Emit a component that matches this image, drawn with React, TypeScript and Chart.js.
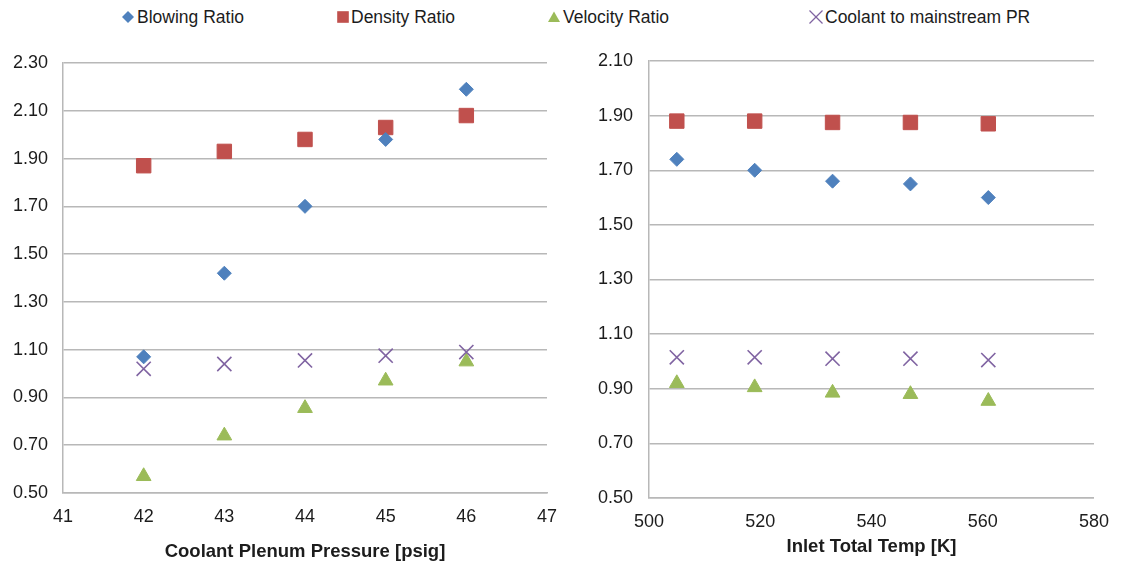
import React, { useEffect, useRef } from "react";
import { Chart, registerables } from "chart.js";

Chart.register(...registerables);

// ---- Data ----
const seriesNames = ["Blowing Ratio", "Density Ratio", "Velocity Ratio", "Coolant to mainstream PR"];

const pressure = [42, 43, 44, 45, 46];
const blowingP = [1.07, 1.42, 1.7, 1.98, 2.19];
const densityP = [1.87, 1.93, 1.98, 2.03, 2.08];
const velocityP = [0.57, 0.74, 0.855, 0.97, 1.05];
const prP = [1.02, 1.04, 1.055, 1.075, 1.09];

const temp = [505, 519, 533, 547, 561];
const blowingT = [1.74, 1.7, 1.66, 1.65, 1.6];
const densityT = [1.88, 1.88, 1.875, 1.875, 1.87];
const velocityT = [0.92, 0.905, 0.885, 0.88, 0.855];
const prT = [1.015, 1.015, 1.01, 1.01, 1.005];

const leftXTitle = "Coolant Plenum Pressure [psig]";
const rightXTitle = "Inlet Total Temp [K]";

// ---- Styles ----
const BLUE = "#4F81BD";
const RED = "#C0504D";
const GREEN = "#9BBB59";
const PURPLE = "#8064A2";
const GRID = "#b8b8b8";
const TEXT = "#1c1c1c";
const FONT = "'Liberation Sans', Arial, sans-serif";

function buildDatasets(xs: number[], b: number[], d: number[], v: number[], p: number[]) {
  const pts = (ys: number[]) => xs.map((x, i) => ({ x, y: ys[i] }));
  return [
    {
      label: seriesNames[0],
      data: pts(b),
      pointStyle: "rectRot",
      pointRadius: 7,
      backgroundColor: BLUE,
      borderColor: BLUE,
      borderWidth: 1,
      showLine: false,
      order: 1,
    },
    {
      label: seriesNames[1],
      data: pts(d),
      pointStyle: "rect",
      pointRadius: 10.2,
      backgroundColor: RED,
      borderColor: RED,
      borderWidth: 1,
      showLine: false,
      order: 2,
    },
    {
      label: seriesNames[2],
      data: pts(v),
      pointStyle: "triangle",
      pointRadius: 8.5,
      backgroundColor: GREEN,
      borderColor: GREEN,
      borderWidth: 1,
      showLine: false,
      order: 3,
    },
    {
      label: seriesNames[3],
      data: pts(p),
      pointStyle: "crossRot",
      pointRadius: 10,
      backgroundColor: PURPLE,
      borderColor: PURPLE,
      borderWidth: 1.6,
      showLine: false,
      order: 0,
    },
  ];
}

type PanelProps = {
  left: number;
  width: number;
  height: number;
  datasets: any[];
  xMin: number;
  xMax: number;
  xStep: number;
  yMin: number;
  yMax: number;
  yStep: number;
  title: string;
  yAxisWidth: number;
  yTickPad: number;
  padTop: number;
  padRight: number;
  xAxisHeight: number;
  xTickPad: number;
  titlePadBottom: number;
};

function ScatterPanel(props: PanelProps) {
  const ref = useRef<HTMLCanvasElement>(null);
  useEffect(() => {
    const canvas = ref.current;
    if (!canvas) return;
    const chart = new Chart(canvas, {
      type: "scatter",
      data: { datasets: props.datasets as any },
      options: {
        responsive: false,
        animation: false,
        devicePixelRatio: 1,
        layout: { padding: { top: props.padTop, right: props.padRight, left: 0, bottom: 0 } },
        plugins: { legend: { display: false }, tooltip: { enabled: false }, title: { display: false } },
        events: [],
        scales: {
          x: {
            type: "linear",
            min: props.xMin,
            max: props.xMax,
            ticks: {
              stepSize: props.xStep,
              padding: props.xTickPad,
              color: TEXT,
              font: { family: FONT, size: 18 },
              maxRotation: 0,
              callback: (v: any) => String(Math.round(Number(v))),
            },
            grid: { display: false, drawTicks: false },
            border: { display: true, color: GRID, width: 1.5 },
            title: {
              display: true,
              text: props.title,
              color: TEXT,
              font: { family: FONT, size: 18.5, weight: "bold" },
              padding: { top: 0, bottom: props.titlePadBottom },
            },
            afterFit: (s: any) => {
              s.height = props.xAxisHeight;
            },
          },
          y: {
            type: "linear",
            min: props.yMin,
            max: props.yMax,
            ticks: {
              stepSize: props.yStep,
              padding: props.yTickPad,
              color: TEXT,
              font: { family: FONT, size: 18 },
              callback: (v: any) => Number(v).toFixed(2),
            },
            grid: { display: true, drawTicks: false, color: GRID, lineWidth: 1.5 },
            border: { display: true, color: GRID, width: 1.5 },
            afterFit: (s: any) => {
              s.width = props.yAxisWidth;
            },
          },
        },
      } as any,
    });
    return () => chart.destroy();
  }, []);
  return (
    <canvas
      ref={ref}
      width={props.width}
      height={props.height}
      style={{ position: "absolute", left: props.left, top: 0, width: props.width, height: props.height }}
    />
  );
}

function LegendMarker({ kind }: { kind: number }) {
  if (kind === 0) return <polygon points="8,2 14,8 8,14 2,8" fill={BLUE} />;
  if (kind === 1) return <rect x={2.2} y={2.2} width={11.6} height={11.6} fill={RED} />;
  if (kind === 2) return <polygon points="8,2.5 14,13 2,13" fill={GREEN} />;
  return (
    <g stroke={PURPLE} strokeWidth={1.3}>
      <line x1={1.5} y1={1.5} x2={14.5} y2={14.5} />
      <line x1={14.5} y1={1.5} x2={1.5} y2={14.5} />
    </g>
  );
}

export default function App() {
  const legendTextLeft = [137, 351, 563, 825];
  const legendMarkerCenter = [127.5, 342.5, 554, 816];
  return (
    <div
      style={{
        position: "absolute",
        left: 0,
        top: 0,
        width: 1122,
        height: 564,
        background: "#ffffff",
        overflow: "hidden",
        fontFamily: FONT,
      }}
    >
      {seriesNames.map((name, i) => (
        <React.Fragment key={name}>
          <svg
            width={16}
            height={16}
            style={{ position: "absolute", left: legendMarkerCenter[i] - 8, top: 9 }}
          >
            <LegendMarker kind={i} />
          </svg>
          <div
            style={{
              position: "absolute",
              left: legendTextLeft[i],
              top: 7,
              fontSize: 17.5,
              lineHeight: "20px",
              color: TEXT,
              whiteSpace: "nowrap",
            }}
          >
            {name}
          </div>
        </React.Fragment>
      ))}
      <ScatterPanel
        left={0}
        width={580}
        height={564}
        datasets={buildDatasets(pressure, blowingP, densityP, velocityP, prP)}
        xMin={41}
        xMax={47}
        xStep={1}
        yMin={0.5}
        yMax={2.3}
        yStep={0.2}
        title={leftXTitle}
        yAxisWidth={63}
        yTickPad={15}
        padTop={63}
        padRight={33}
        xAxisHeight={71}
        xTickPad={13}
        titlePadBottom={1}
      />
      <ScatterPanel
        left={580}
        width={542}
        height={564}
        datasets={buildDatasets(temp, blowingT, densityT, velocityT, prT)}
        xMin={500}
        xMax={580}
        xStep={20}
        yMin={0.5}
        yMax={2.1}
        yStep={0.2}
        title={rightXTitle}
        yAxisWidth={69}
        yTickPad={16}
        padTop={61}
        padRight={17}
        xAxisHeight={66}
        xTickPad={13}
        titlePadBottom={6}
      />
    </div>
  );
}
